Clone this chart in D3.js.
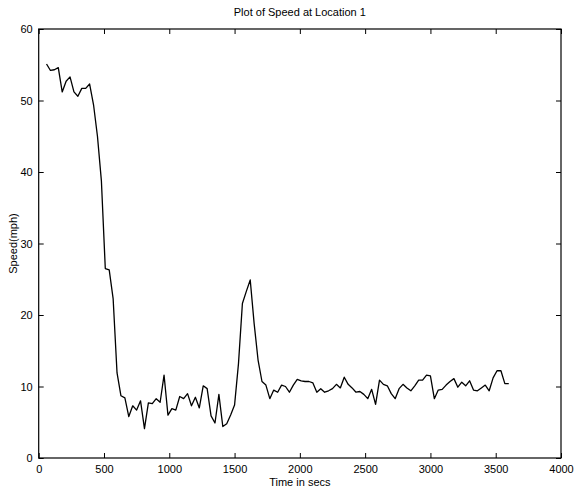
<!DOCTYPE html>
<html>
<head>
<meta charset="utf-8">
<script src="https://cdn.jsdelivr.net/npm/d3@7"></script>
<style>
  html, body { margin: 0; padding: 0; background: #fff; }
  svg text { font-family: "Liberation Sans", Arial, Helvetica, sans-serif; fill: #000; }
</style>
</head>
<body>
<svg id="chart" width="575" height="494"></svg>
<script>
// Sample times (s) and measured speed (mph) at location 1
const timeSecs = [
  60, 90, 120, 150, 180, 210, 240, 270, 300, 330, 360, 390, 420, 450, 480, 510, 540, 570,
  600, 630, 660, 690, 720, 750, 780, 810, 840, 870, 900, 930, 960, 990, 1020, 1050, 1080, 1110,
  1140, 1170, 1200, 1230, 1260, 1290, 1320, 1350, 1380, 1410, 1440, 1470, 1500, 1530, 1560, 1590,
  1620, 1650, 1680, 1710, 1740, 1770, 1800, 1830, 1860, 1890, 1920, 1950, 1980, 2010, 2040, 2070,
  2100, 2130, 2160, 2190, 2220, 2250, 2280, 2310, 2340, 2370, 2400, 2430, 2460, 2490, 2520, 2550,
  2580, 2610, 2640, 2670, 2700, 2730, 2760, 2790, 2820, 2850, 2880, 2910, 2940, 2970, 3000, 3030,
  3060, 3090, 3120, 3150, 3180, 3210, 3240, 3270, 3300, 3330, 3360, 3390, 3420, 3450, 3480, 3510,
  3540, 3570, 3600
];
const speedMph = [
  55.1, 54.2, 54.3, 54.6, 51.2, 52.7, 53.3, 51.2, 50.6, 51.7, 51.7, 52.3, 49.4, 45.0, 38.8, 26.5, 26.3, 22.3,
  11.9, 8.7, 8.4, 5.8, 7.3, 6.7, 8.0, 4.1, 7.7, 7.6, 8.3, 7.8, 11.6, 6.0, 6.9, 6.7, 8.6, 8.3,
  9.0, 7.3, 8.5, 7.0, 10.1, 9.7, 5.9, 4.9, 8.9, 4.4, 4.8, 6.0, 7.4, 13.2, 21.6, 23.3,
  24.9, 18.8, 13.7, 10.7, 10.2, 8.3, 9.5, 9.2, 10.2, 10.0, 9.2, 10.2, 11.0, 10.8, 10.7, 10.7,
  10.5, 9.2, 9.7, 9.2, 9.4, 9.7, 10.3, 9.8, 11.3, 10.3, 9.8, 9.2, 9.3, 8.9, 8.3, 9.6,
  7.5, 10.9, 10.3, 10.1, 9.0, 8.3, 9.7, 10.3, 9.8, 9.4, 10.1, 10.9, 10.9, 11.6, 11.5, 8.3,
  9.5, 9.6, 10.2, 10.7, 11.1, 9.9, 10.6, 10.1, 10.8, 9.5, 9.4, 9.8, 10.2, 9.4, 11.2, 12.2,
  12.2, 10.4, 10.4
];
const xTicks = [0, 500, 1000, 1500, 2000, 2500, 3000, 3500, 4000];
const yTicks = [0, 10, 20, 30, 40, 50, 60];
const titleText = "Plot of Speed at Location 1";
const xLabelText = "Time in secs";
const yLabelText = "Speed(mph)";

const svg = d3.select("#chart");
const margin = { left: 38.7, right: 14, top: 29, bottom: 36 };
const W = 575, H = 494;
const plotW = W - margin.left - margin.right;
const plotH = H - margin.top - margin.bottom;

const x = d3.scaleLinear().domain([0, 4000]).range([margin.left, margin.left + plotW]);
const y = d3.scaleLinear().domain([0, 60]).range([margin.top + plotH, margin.top]);

const tickLen = 5;
const fontSize = 11;

// Bottom axis: inward ticks with labels below
const gBottom = svg.append("g").attr("transform", `translate(0,${y(0)})`)
  .call(d3.axisBottom(x).tickValues(xTicks).tickSize(-tickLen).tickPadding(7).tickFormat(d3.format("d")));
// Left axis
const gLeft = svg.append("g").attr("transform", `translate(${x(0)},0)`)
  .call(d3.axisLeft(y).tickValues(yTicks).tickSize(-tickLen).tickPadding(6).tickFormat(d3.format("d")));
// Top and right axes: ticks only
const gTop = svg.append("g").attr("transform", `translate(0,${y(60)})`)
  .call(d3.axisTop(x).tickValues(xTicks).tickSize(-tickLen).tickFormat(""));
const gRight = svg.append("g").attr("transform", `translate(${x(4000)},0)`)
  .call(d3.axisRight(y).tickValues(yTicks).tickSize(-tickLen).tickFormat(""));

[gBottom, gLeft, gTop, gRight].forEach(g => {
  g.select(".domain").remove();
  g.selectAll(".tick line").attr("stroke", "#000").attr("stroke-width", 1);
  g.selectAll(".tick text").attr("font-size", fontSize)
    .attr("font-family", "Liberation Sans, Arial, sans-serif").attr("fill", "#000");
});

// Axes frame
svg.append("rect")
  .attr("x", x(0)).attr("y", y(60))
  .attr("width", x(4000) - x(0)).attr("height", y(0) - y(60))
  .attr("fill", "none").attr("stroke", "#000").attr("stroke-width", 1.2);

// Speed trace
const line = d3.line().x((d, i) => x(timeSecs[i])).y(d => y(d));
svg.append("path")
  .datum(speedMph)
  .attr("d", line)
  .attr("fill", "none")
  .attr("stroke", "#000")
  .attr("stroke-width", 1.3)
  .attr("stroke-linejoin", "round");

// Title and axis labels
const cx = (x(0) + x(4000)) / 2;
svg.append("text").attr("x", cx).attr("y", 16).attr("text-anchor", "middle")
  .attr("font-size", fontSize).text(titleText);
svg.append("text").attr("x", cx).attr("y", 486).attr("text-anchor", "middle")
  .attr("font-size", fontSize).text(xLabelText);
svg.append("text").attr("transform", `translate(17,${(y(0) + y(60)) / 2}) rotate(-90)`)
  .attr("text-anchor", "middle").attr("font-size", fontSize).text(yLabelText);
</script>
</body>
</html>
